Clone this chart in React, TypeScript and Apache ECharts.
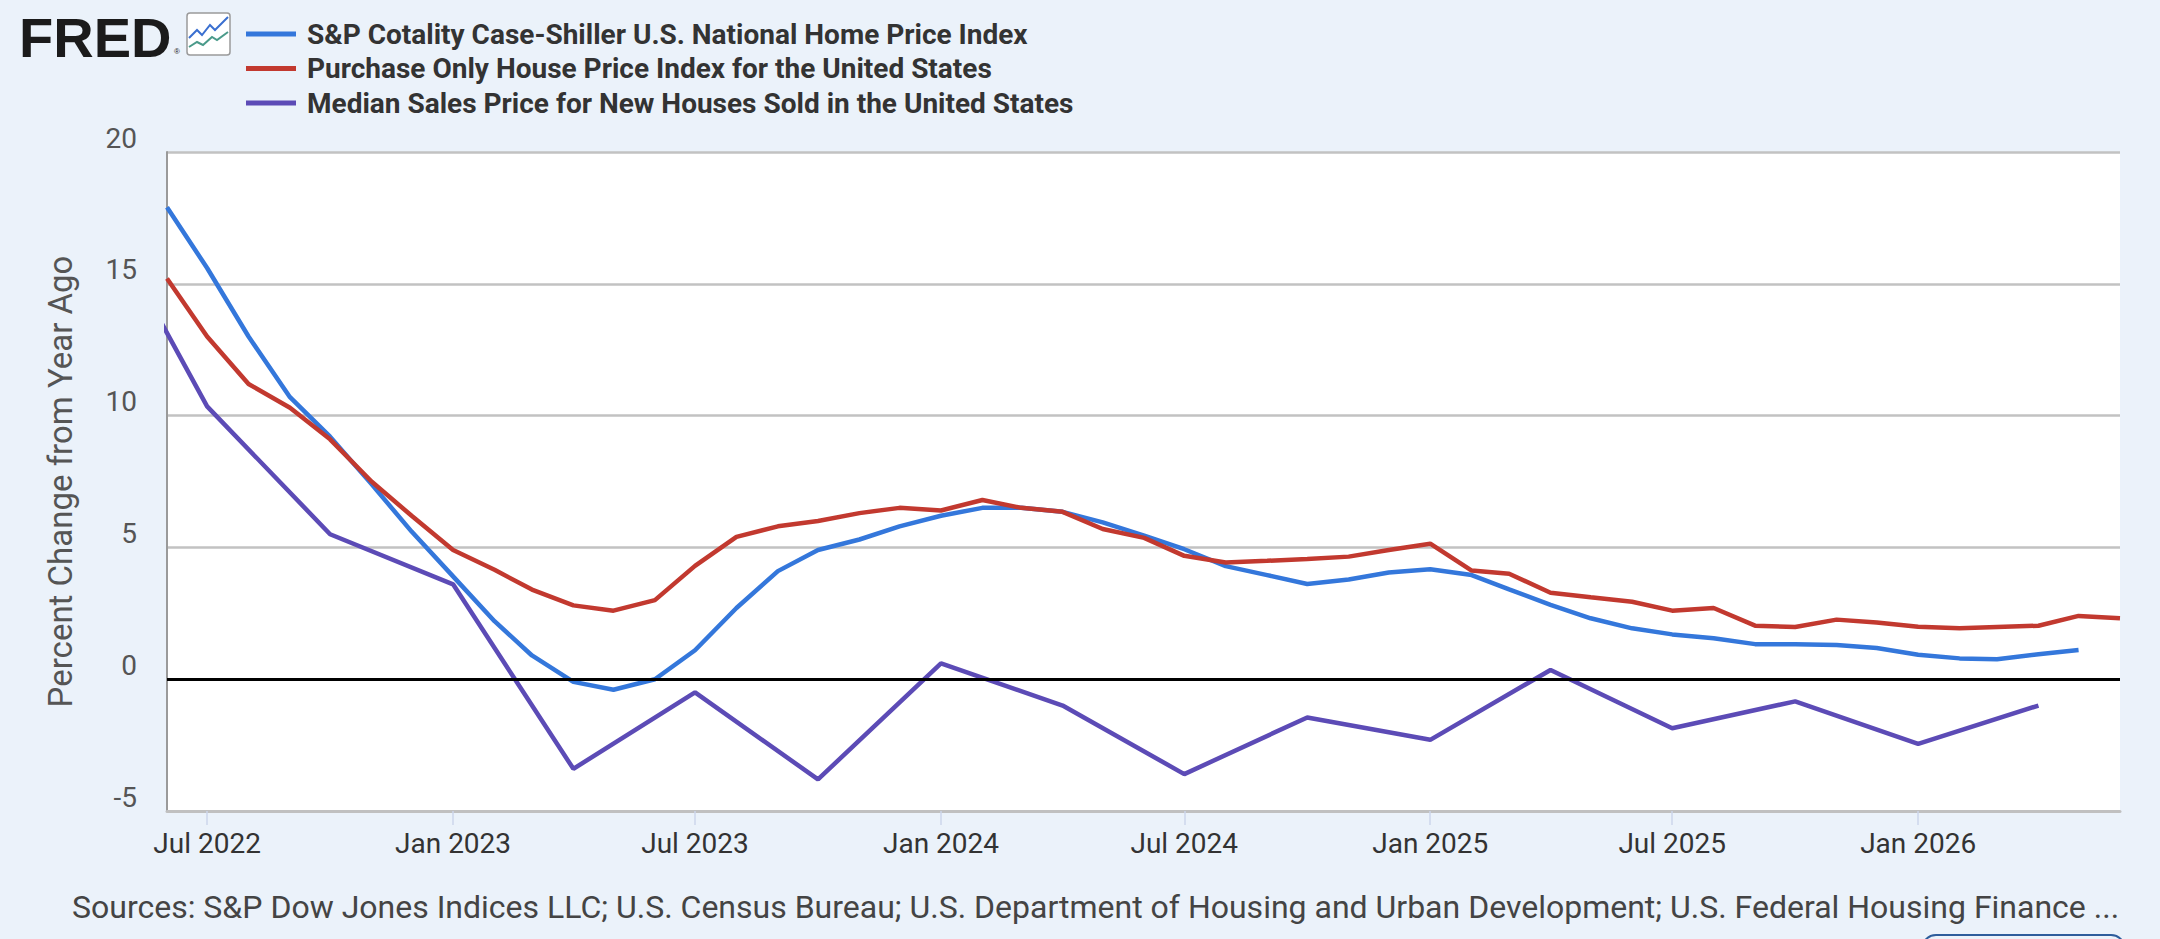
import React, { useEffect, useRef } from 'react'
import * as echarts from 'echarts'

// monthly observation dates (first of month)
const months = [
  '2022-06', '2022-07', '2022-08', '2022-09', '2022-10', '2022-11', '2022-12',
  '2023-01', '2023-02', '2023-03', '2023-04', '2023-05', '2023-06', '2023-07', '2023-08', '2023-09', '2023-10', '2023-11', '2023-12',
  '2024-01', '2024-02', '2024-03', '2024-04', '2024-05', '2024-06', '2024-07', '2024-08', '2024-09', '2024-10', '2024-11', '2024-12',
  '2025-01', '2025-02', '2025-03', '2025-04', '2025-05', '2025-06', '2025-07', '2025-08', '2025-09', '2025-10', '2025-11', '2025-12',
  '2026-01', '2026-02', '2026-03', '2026-04', '2026-05', '2026-06'
]

// S&P Cotality Case-Shiller, Jun 2022 .. May 2026
const caseShiller = [
  17.9, 15.6, 13.0, 10.7, 9.2, 7.4, 5.6,
  3.9, 2.2, 0.9, -0.1, -0.4, 0.0, 1.1, 2.7, 4.1, 4.9, 5.3, 5.8,
  6.2, 6.5, 6.5, 6.35, 5.95, 5.45, 4.93, 4.29, 3.95, 3.61, 3.78, 4.05,
  4.17, 3.95, 3.41, 2.82, 2.31, 1.93, 1.7, 1.55, 1.33, 1.33, 1.3, 1.18,
  0.93, 0.79, 0.76, 0.95, 1.11
]

// Purchase Only HPI, Jun 2022 .. Jun 2026
const purchaseOnly = [
  15.2, 13.0, 11.2, 10.3, 9.1, 7.5, 6.2,
  4.9, 4.15, 3.4, 2.8, 2.6, 3.0, 4.3, 5.4, 5.8, 6.0, 6.3, 6.5,
  6.4, 6.8, 6.5, 6.35, 5.7, 5.36, 4.68, 4.43, 4.49, 4.56, 4.65, 4.9,
  5.14, 4.12, 4.0, 3.28, 3.11, 2.94, 2.6, 2.7, 2.03, 1.98, 2.26, 2.15,
  1.99, 1.93, 1.98, 2.03, 2.4, 2.31
]

// Median sales price for new houses, quarterly
const quarters = [
  '2022-04', '2022-07', '2022-10', '2023-01', '2023-04', '2023-07', '2023-10',
  '2024-01', '2024-04', '2024-07', '2024-10', '2025-01', '2025-04', '2025-07', '2025-10',
  '2026-01', '2026-04'
]
const newHomeMedian = [
  18.8, 10.35, 5.5, 3.6, -3.4, -0.5, -3.8,
  0.6, -1.0, -3.6, -1.45, -2.3, 0.35, -1.86, -0.84,
  -2.45, -1.0
]

const tickMonths = ['2022-07', '2023-01', '2023-07', '2024-01', '2024-07', '2025-01', '2025-07', '2026-01']
const monthNames = ['Jan', 'Feb', 'Mar', 'Apr', 'May', 'Jun', 'Jul', 'Aug', 'Sep', 'Oct', 'Nov', 'Dec']

const seriesNames = [
  'S&P Cotality Case-Shiller U.S. National Home Price Index',
  'Purchase Only House Price Index for the United States',
  'Median Sales Price for New Houses Sold in the United States'
]
const seriesColors = ['#3477db', '#c2392f', '#5c4bb6']

const sourceText =
  'Sources: S&P Dow Jones Indices LLC; U.S. Census Bureau; U.S. Department of Housing and Urban Development; U.S. Federal Housing Finance ...'

const toTime = (ym: string) => Date.UTC(Number(ym.slice(0, 4)), Number(ym.slice(5, 7)) - 1, 1)

const App: React.FC = () => {
  const chartRef = useRef<HTMLDivElement>(null)

  useEffect(() => {
    if (!chartRef.current) return
    document.body.style.margin = '0'

    const chart = echarts.init(chartRef.current, undefined, { renderer: 'svg' })

    const ticks = tickMonths.map(toTime)
    const lineBase = {
      type: 'line' as const,
      showSymbol: false,
      symbol: 'none',
      clip: true,
      emphasis: { disabled: true }
    }

    const option: echarts.EChartsOption = {
      animation: false,
      backgroundColor: '#ebf2fa',
      textStyle: { fontFamily: 'Roboto' },
      grid: {
        left: 167,
        right: 40,
        top: 152,
        bottom: 128,
        show: true,
        backgroundColor: '#ffffff',
        borderWidth: 0
      },
      legend: {
        orient: 'vertical',
        left: 246,
        top: 20,
        padding: 0,
        itemWidth: 50,
        itemHeight: 5,
        itemGap: 6.5,
        icon: 'rect',
        selectedMode: false,
        data: seriesNames,
        textStyle: {
          fontFamily: 'Roboto',
          fontSize: 28,
          fontWeight: 'bold',
          color: '#333333',
          lineHeight: 28,
          padding: [0, 0, 0, 6]
        }
      },
      xAxis: {
        type: 'value',
        min: toTime('2022-06'),
        max: toTime('2026-06'),
        axisLine: { show: true, onZero: false, lineStyle: { color: '#c0c0c0', width: 3 } },
        axisTick: { show: true, length: 14, customValues: ticks, lineStyle: { color: '#ccd6eb', width: 1.5 } },
        axisLabel: {
          customValues: ticks,
          fontSize: 28,
          color: '#333333',
          margin: 18,
          formatter: (value: number) => {
            const d = new Date(value)
            return `${monthNames[d.getUTCMonth()]} ${d.getUTCFullYear()}`
          }
        },
        splitLine: { show: false }
      } as any,
      yAxis: {
        type: 'value',
        min: -5,
        max: 20,
        interval: 5,
        name: 'Percent Change from Year Ago',
        nameLocation: 'middle',
        nameGap: 90,
        nameTextStyle: { fontSize: 33, color: '#555555' },
        axisLine: { show: true, lineStyle: { color: '#9a9a9a', width: 2 } },
        axisTick: { show: false },
        axisLabel: { fontSize: 28, color: '#555555', margin: 30, verticalAlign: 'bottom', lineHeight: 28 },
        splitLine: { lineStyle: { color: '#c2c2c2', width: 2.5 } }
      },
      series: [
        {
          ...lineBase,
          name: seriesNames[0],
          color: seriesColors[0],
          lineStyle: { color: seriesColors[0], width: 4.5 },
          data: caseShiller.map((v, i) => [toTime(months[i]), v]),
          z: 3
        },
        {
          ...lineBase,
          name: seriesNames[1],
          color: seriesColors[1],
          lineStyle: { color: seriesColors[1], width: 4.5 },
          data: purchaseOnly.map((v, i) => [toTime(months[i]), v]),
          z: 4
        },
        {
          ...lineBase,
          name: seriesNames[2],
          color: seriesColors[2],
          lineStyle: { color: seriesColors[2], width: 4.5 },
          data: newHomeMedian.map((v, i) => [toTime(quarters[i]), v]),
          z: 2,
          markLine: {
            silent: true,
            symbol: ['none', 'none'],
            label: { show: false },
            lineStyle: { color: '#000000', width: 3, type: 'solid' },
            data: [{ yAxis: 0 }]
          }
        }
      ],
      graphic: [
        {
          type: 'text',
          left: 19,
          top: 9,
          style: { text: 'FRED', font: 'bold 56px "Liberation Sans", Arial', fill: '#1b1b1b' }
        },
        {
          type: 'text',
          left: 174,
          top: 47,
          style: { text: '®', font: '8px "Liberation Sans"', fill: '#1b1b1b' }
        },
        {
          type: 'rect',
          shape: { x: 187, y: 13, width: 43, height: 42, r: 3 },
          style: { fill: '#ffffff', stroke: '#9a9a9a', lineWidth: 1.5 }
        },
        {
          type: 'polyline',
          shape: { points: [[189, 38], [197, 30], [202, 35], [210, 25], [215, 30], [228, 17]] },
          style: { stroke: '#3a6fd0', lineWidth: 2, fill: 'none' }
        },
        {
          type: 'polyline',
          shape: { points: [[189, 47], [197, 42], [203, 45], [212, 37], [217, 40], [228, 32]] },
          style: { stroke: '#4a9a8a', lineWidth: 2, fill: 'none' }
        },
        {
          type: 'text',
          left: 72,
          top: 891,
          style: { text: sourceText, fontFamily: 'Roboto', fontSize: 32, fill: '#444444' }
        },
        {
          type: 'rect',
          shape: { x: 1922, y: 935, width: 203, height: 40, r: 14 },
          style: { fill: 'none', stroke: '#2d5d9c', lineWidth: 2 }
        }
      ]
    }

    chart.setOption(option)

    return () => {
      chart.dispose()
    }
  }, [])

  return <div ref={chartRef} style={{ width: '2160px', height: '939px' }} />
}

export default App
